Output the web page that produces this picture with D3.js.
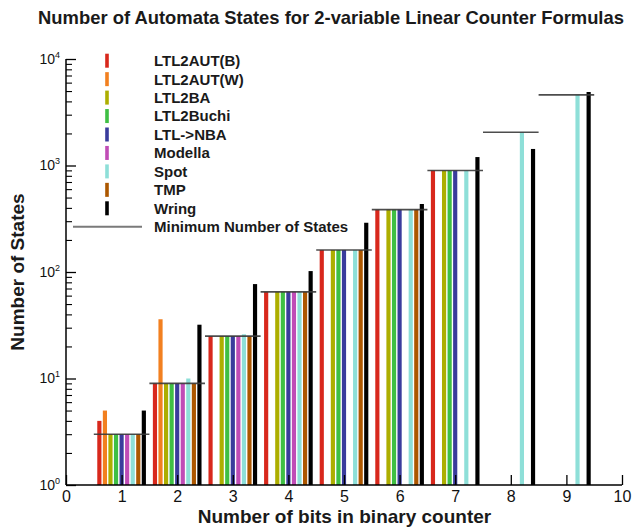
<!DOCTYPE html>
<html><head><meta charset="utf-8">
<script src="https://cdn.jsdelivr.net/npm/d3@7"></script>
<style>
body{margin:0;background:#fff;}
svg{display:block;font-family:"Liberation Sans",Arial,Helvetica,sans-serif;}
</style></head>
<body>
<svg id="chart" width="632" height="531"></svg>
<script>
const title = "Number of Automata States for 2-variable Linear Counter Formulas";
const xLabel = "Number of bits in binary counter";
const yLabel = "Number of States";
const bits = [1, 2, 3, 4, 5, 6, 7, 8, 9];
const xTicks = [0, 1, 2, 3, 4, 5, 6, 7, 8, 9, 10];
const yMajorExps = [0, 1, 2, 3, 4];
const seriesNames = ["LTL2AUT(B)", "LTL2AUT(W)", "LTL2BA", "LTL2Buchi", "LTL->NBA", "Modella", "Spot", "TMP", "Wring"];
const seriesColors = ["#d8281c", "#f28020", "#adae00", "#3fbf44", "#3a3c9c", "#c04cb6", "#8edfd8", "#ac5700", "#000000"];
const ltl2autB = [4, 9, 25, 65, 161, 385, 897, null, null];
const ltl2autW = [5, 36, null, null, null, null, null, null, null];
const ltl2ba   = [3, 9, 25, 65, 161, 385, 897, null, null];
const ltl2buchi= [3, 9, 25, 65, 161, 385, 897, null, null];
const ltlNba   = [3, 9, 25, 65, 161, 385, 897, null, null];
const modella  = [3, 9, 25, 65, null, null, null, null, null];
const spot     = [3, 10, 26, 65, 161, 385, 897, 2049, 4609];
const tmp      = [3, 9, 25, 65, 161, 385, null, null, null];
const wring    = [5, 32, 77, 102, 290, 435, 1200, 1430, 4900];
const minStates = [3, 9, 25, 65, 161, 385, 897, 2049, 4609];
const minLabel = "Minimum Number of States";

const seriesValues = [ltl2autB, ltl2autW, ltl2ba, ltl2buchi, ltlNba, modella, spot, tmp, wring];

const svg = d3.select("#chart");
const x = d3.scaleLinear().domain([0, 10]).range([66, 622]);
const y = d3.scaleLog().domain([1, 10000]).range([485, 59]);

// bars
const barW = x(0.075) - x(0);
const barData = [];
seriesValues.forEach((vals, si) => {
  vals.forEach((v, gi) => {
    if (v != null) barData.push({s: si, g: bits[gi], v});
  });
});
svg.append("g").selectAll("rect").data(barData).join("rect")
  .attr("x", d => x(d.g + (d.s - 4) * 0.1) - barW / 2)
  .attr("width", barW)
  .attr("y", d => y(d.v))
  .attr("height", d => y(1) - y(d.v))
  .attr("fill", d => seriesColors[d.s]);

// minimum lines
svg.append("g").selectAll("line").data(minStates.map((v, i) => ({g: bits[i], v}))).join("line")
  .attr("x1", d => x(d.g - 0.5)).attr("x2", d => x(d.g + 0.5))
  .attr("y1", d => y(d.v)).attr("y2", d => y(d.v))
  .attr("stroke", "#3a3a3a").attr("stroke-width", 1.6).attr("stroke-opacity", 0.9);

// x axis
const xAxis = svg.append("g").attr("transform", `translate(0,${y(1)})`)
  .call(d3.axisBottom(x).tickValues(xTicks).tickSize(-10).tickPadding(6).tickFormat(d3.format("d")));
xAxis.select(".domain").attr("stroke", "#000").attr("stroke-width", 1.5).attr("d", `M${x(0)},0H${x(10)}`);
xAxis.selectAll(".tick line").attr("stroke", "#000").attr("stroke-width", 1.3);
xAxis.selectAll(".tick text").attr("font-size", 16).attr("fill", "#111").attr("font-family", "Liberation Sans, Arial, sans-serif");

// y axis minor ticks
const minorVals = [];
for (let e = 0; e < 4; e++) for (let m = 2; m <= 9; m++) minorVals.push(m * Math.pow(10, e));
const yMinor = svg.append("g").attr("transform", `translate(${x(0)},0)`)
  .call(d3.axisLeft(y).tickValues(minorVals).tickSize(-6).tickFormat(""));
yMinor.select(".domain").remove();
yMinor.selectAll(".tick line").attr("stroke", "#000").attr("stroke-width", 1.1);

const yAxis = svg.append("g").attr("transform", `translate(${x(0)},0)`)
  .call(d3.axisLeft(y).tickValues(yMajorExps.map(e => Math.pow(10, e))).tickSize(-10).tickPadding(6).tickFormat(""));
yAxis.select(".domain").attr("stroke", "#000").attr("stroke-width", 1.5).attr("d", `M0,${y(10000)}V${y(1)}`);
yAxis.selectAll(".tick line").attr("stroke", "#000").attr("stroke-width", 1.3);
yAxis.selectAll(".tick text").each(function(d) {
  const t = d3.select(this).attr("font-size", 14).attr("fill", "#111").attr("font-family", "Liberation Sans, Arial, sans-serif");
  t.text("10");
  t.append("tspan").attr("font-size", 9).attr("dy", "-0.7em").text(Math.round(Math.log10(d)));
});

// legend
const legY0 = 60.7, legStep = 18.45;
const leg = svg.append("g").attr("font-weight", "bold").attr("font-size", 15).attr("fill", "#1a1a1a");
seriesNames.forEach((n, i) => {
  const cy = legY0 + i * legStep;
  leg.append("rect").attr("x", 105.2).attr("y", cy - 7).attr("width", 3.6).attr("height", 14).attr("fill", seriesColors[i]);
  leg.append("text").attr("x", 154).attr("y", cy).attr("dy", "0.36em").text(n);
});
const cyMin = legY0 + 9 * legStep;
leg.append("line").attr("x1", 73).attr("x2", 142).attr("y1", cyMin).attr("y2", cyMin)
  .attr("stroke", "#7a7a7a").attr("stroke-width", 2);
leg.append("text").attr("x", 154).attr("y", cyMin).attr("dy", "0.36em").text(minLabel);

// titles
svg.append("text").attr("x", 331).attr("y", 24).attr("text-anchor", "middle")
  .attr("font-weight", "bold").attr("font-size", 18.4).attr("fill", "#1a1a1a").text(title);
svg.append("text").attr("x", 344.5).attr("y", 523).attr("text-anchor", "middle")
  .attr("font-weight", "bold").attr("font-size", 19).attr("fill", "#1a1a1a").text(xLabel);
svg.append("text").attr("transform", "translate(24,272) rotate(-90)").attr("text-anchor", "middle")
  .attr("font-weight", "bold").attr("font-size", 19).attr("fill", "#1a1a1a").text(yLabel);
</script>
</body></html>
